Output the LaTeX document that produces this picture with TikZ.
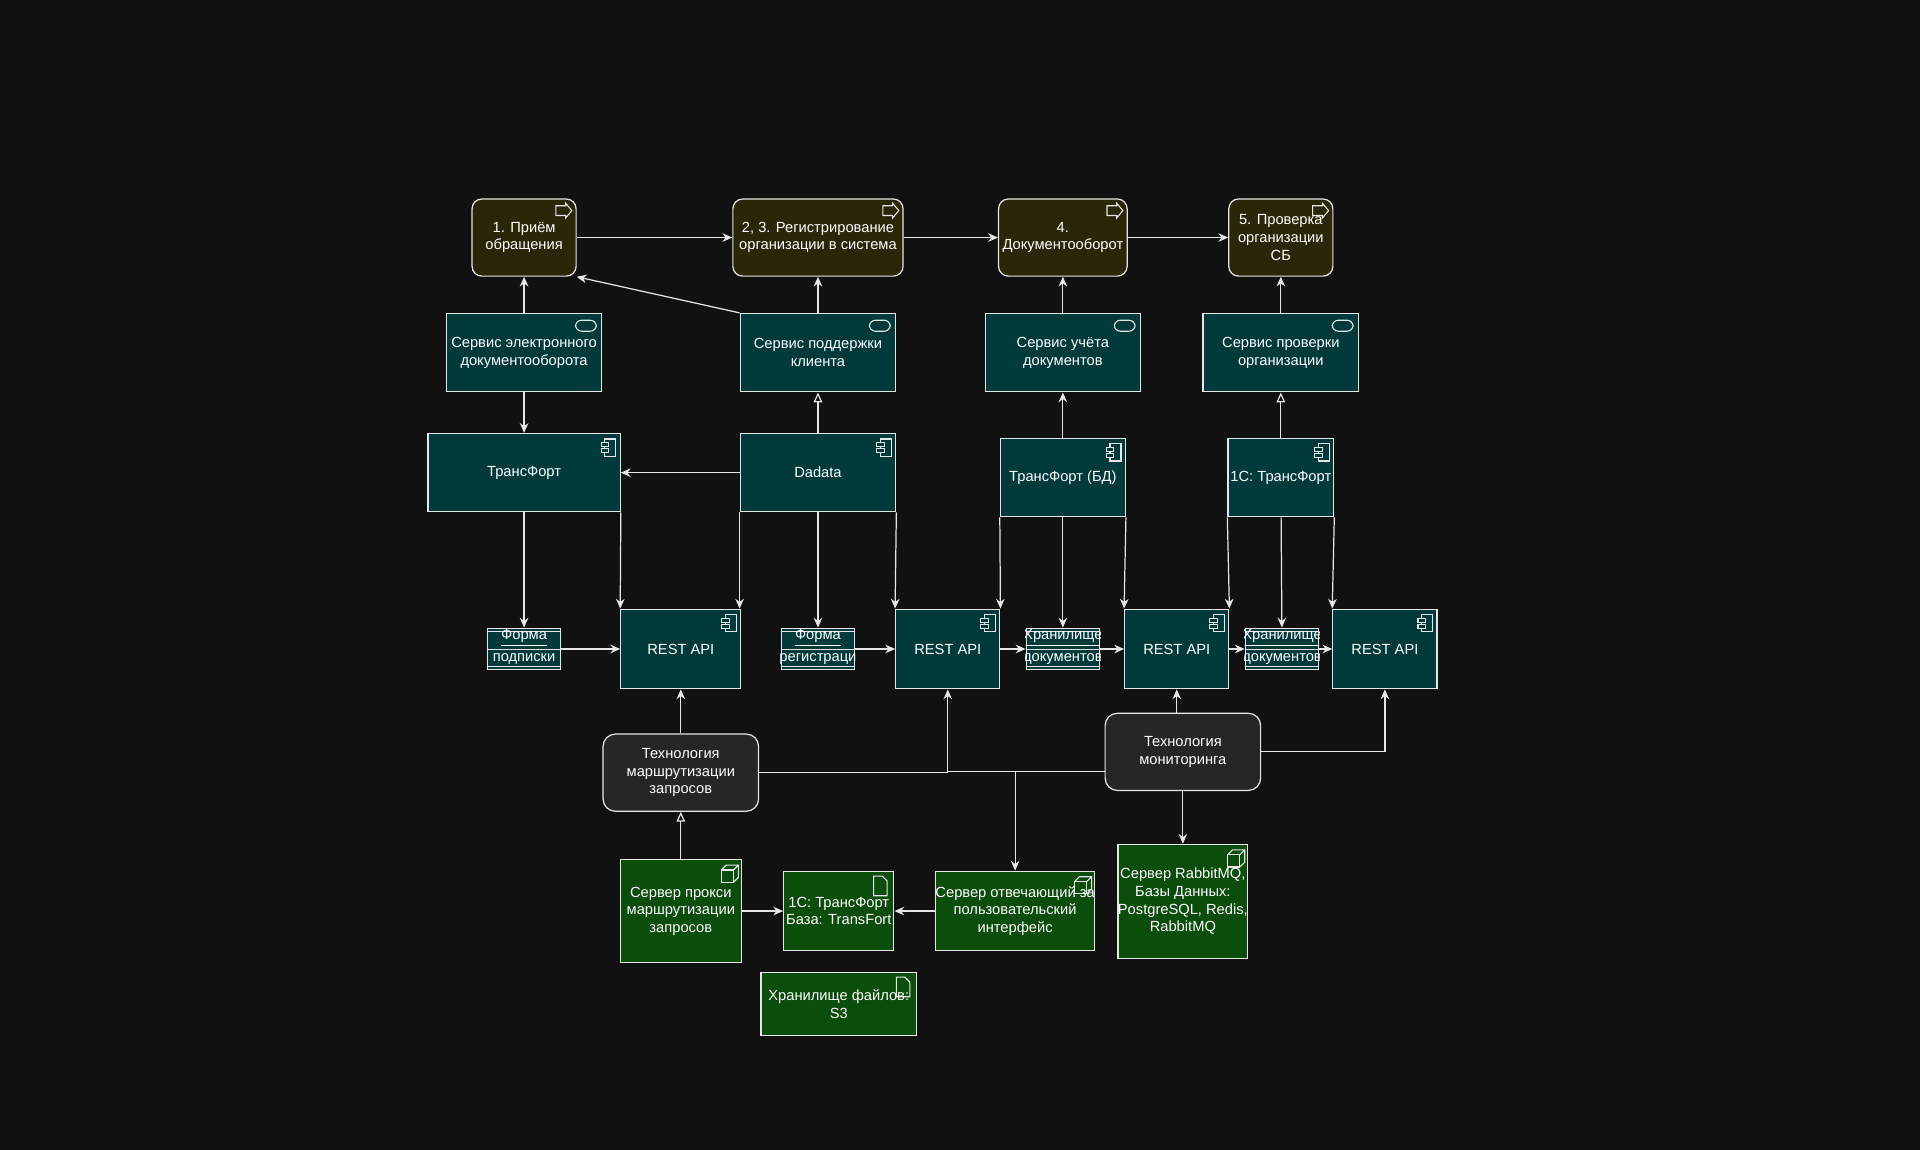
\documentclass[tikz,border=0pt]{standalone}
\usepackage{fontspec}
\setmainfont{Liberation Sans}
\usetikzlibrary{arrows.meta,calc}
\definecolor{bg}{HTML}{111111}
\definecolor{procf}{HTML}{2A2608}
\definecolor{teal}{HTML}{013A3A}
\definecolor{grn}{HTML}{0B4D0B}
\definecolor{tech}{HTML}{262626}
\definecolor{ln}{HTML}{E6E6E6}
\begin{document}
\begin{tikzpicture}[x=0.5pt,y=-0.5pt,
  every node/.style={font=\fontsize{6}{7.2}\selectfont,text=white,align=center,inner sep=1pt},
  bx/.style 2 args={minimum width=#1*0.5pt,minimum height=#2*0.5pt},
  base/.style={draw=ln,line width=0.5pt},
  proc/.style={base,fill=procf,rounded corners=4pt},
  serv/.style={base,fill=teal},
  comp/.style={base,fill=teal},
  techn/.style={base,fill=tech,rounded corners=5pt},
  gnode/.style={base,fill=grn},
  ar/.style={draw=ln,line width=0.5pt,-{Stealth[length=4pt,width=3.5pt]}},
  tri/.style={draw=ln,line width=0.5pt,-{Triangle[open,length=4pt,width=3.5pt,fill=bg]}},
  ic/.style={draw=ln,line width=0.45pt}]
\fill[bg] (0,0) rectangle (1568,939);
\useasboundingbox (0,0) rectangle (1568,939);
% processes
\node[proc,bx={85}{63}] (p1) at (428,194) {1. Приём\\обращения};
\node[proc,bx={139}{63}] (p2) at (668,194) {2, 3. Регистрирование\\организации в система};
\node[proc,bx={105}{63}] (p3) at (868,194) {4.\\Документооборот};
\node[proc,bx={85}{63}] (p4) at (1046,194) {5. Проверка\\организации\\СБ};
% services
\node[serv,bx={127}{64}] (s1) at (428,288) {Сервис электронного\\документооборота};
\node[serv,bx={127}{64}] (s2) at (668,288) {Сервис поддержки\\клиента};
\node[serv,bx={127}{64}] (s3) at (868,288) {Сервис учёта\\документов};
\node[serv,bx={127}{64}] (s4) at (1046,288) {Сервис проверки\\организации};
% components
\node[comp,bx={157}{64}] (c1) at (428,386) {ТрансФорт};
\node[comp,bx={127}{64}] (c2) at (668,386) {Dadata};
\node[comp,bx={102}{64}] (c3) at (868,390) {ТрансФорт (БД)};
\node[comp,bx={85}{64}] (c4) at (1046,390) {1С: ТрансФорт};
% rest
\node[comp,bx={98}{65}] (r1) at (556,530) {REST API};
\node[comp,bx={85}{65}] (r2) at (774,530) {REST API};
\node[comp,bx={85}{65}] (r3) at (961,530) {REST API};
\node[comp,bx={85}{65}] (r4) at (1131,530) {REST API};
% forms
\foreach \n/\x/\a/\b in {f1/428/Форма/подписки,f2/668/Форма/регистраци,h1/868/Хранилище/документов,h2/1047/Хранилище/документов}{
  \node[comp,bx={60}{34},inner sep=0pt] (\n) at (\x,530) {};
  \draw[ln,line width=0.4pt] ($(\n.north west)+(0,3)$) -- ($(\n.north east)+(0,3)$);
  \draw[ln,line width=0.4pt] (\n.west) -- (\n.east);
  \draw[ln,line width=0.4pt] ($(\n.south west)+(0,-3)$) -- ($(\n.south east)+(0,-3)$);
  \begin{scope}
  \clip (\n.south west) rectangle (\n.north east);
  \node at ($(\n.center)+(0,-9)$) {\underline{\a}};
  \node at ($(\n.center)+(0,8)$) {\b};
  \end{scope}
}
% technologies
\node[techn,bx={127}{63}] (t1) at (556,631) {Технология\\маршрутизации\\запросов};
\node[techn,bx={127}{63}] (t2) at (966,614) {Технология\\мониторинга};
% green nodes
\node[gnode,bx={99}{84}] (g1) at (556,744) {Сервер прокси\\маршрутизации\\запросов};
\node[gnode,bx={85}{64}] (g2) at (685,744) {1С: ТрансФорт\\База: TransFort};
\node[gnode,bx={125}{65},inner sep=0pt] (g3) at (829,744) {Сервер отвечающий за\\пользовательский\\интерфейс};
\node[gnode,bx={100}{93},inner sep=0pt] (g4) at (966,736) {Сервер RabbitMQ,\\Базы Данных:\\PostgreSQL, Redis,\\RabbitMQ};
\node[gnode,bx={127}{51}] (g5) at (685,820) {Хранилище файлов:\\S3};
% icons: process arrow
\foreach \n in {p1,p2,p3,p4}{
  \draw[ic] ($(\n.north east)+(-17,6)$) -- ++(8,0) -- ++(0,-2) -- ++(5,6) -- ++(-5,6) -- ++(0,-2) -- ++(-8,0) -- cycle;}
% service pill
\foreach \n in {s1,s2,s3,s4}{
  \draw[ic,rounded corners=2.5pt] ($(\n.north east)+(-22,6)$) rectangle ++(17,9);}
% component icon
\foreach \n in {c1,c2,c3,c4,r1,r2,r3,r4}{
  \draw[ic] ($(\n.north east)+(-13,5)$) rectangle ++(9,14);
  \draw[ic,fill=teal] ($(\n.north east)+(-16,8)$) rectangle ++(6,3);
  \draw[ic,fill=teal] ($(\n.north east)+(-16,13)$) rectangle ++(6,3);}
% cube icon
\foreach \n in {g1,g3,g4}{
  \coordinate (q) at ($(\n.north east)+(-17,19)$);
  \draw[ic] (q) rectangle ++(10,-10);
  \draw[ic] ($(q)+(0,-10)$) -- ++(4,-4) -- ++(10,0) -- ++(0,10) -- ++(-4,4);
  \draw[ic] ($(q)+(10,-10)$) -- ++(4,-4);}
% document icon
\foreach \n in {g2,g5}{
  \coordinate (q) at ($(\n.north east)+(-17,4)$);
  \draw[ic] (q) -- ++(7,0) -- ++(4,4) -- ++(0,12) -- ++(-11,0) -- cycle;}
% edges
\draw[ar] (p1) -- (p2);
\draw[ar] (p2) -- (p3);
\draw[ar] (p3) -- (p4);
\draw[ar] (s2.north west) -- (p1.south east);
\draw[ar] (s1) -- (p1);
\draw[ar] (s2) -- (p2);
\draw[ar] (s3) -- (p3);
\draw[ar] (s4) -- (p4);
\draw[ar] (s1) -- (c1);
\draw[tri] (c2) -- (s2);
\draw[ar] (c3) -- (s3);
\draw[tri] (c4) -- (s4);
\draw[ar] (c2) -- (c1);
\draw[ar] (c1) -- (f1);
\draw[ar] (c1.south east) -- (r1.north west);
\draw[ar] (c2.south west) -- (c2.south west |- r1.north);
\draw[ar] (c2) -- (f2);
\draw[ar] (c2.south east) -- (r2.north west);
\draw[ar] (c3.south west) -- (r2.north east);
\draw[ar] (c3) -- (h1);
\draw[ar] (c3.south east) -- (r3.north west);
\draw[ar] (c4.south west) -- (r3.north east);
\draw[ar] (c4) -- (h2);
\draw[ar] (c4.south east) -- (r4.north west);
\draw[ar] (f1) -- (r1);
\draw[ar] (f2) -- (r2);
\draw[ar] (r2) -- (h1);
\draw[ar] (h1) -- (r3);
\draw[ar] (r3) -- (h2);
\draw[ar] (h2) -- (r4);
\draw[ar] (t1) -- (r1);
\draw[ar] (t1.east) -- (r2 |- t1.east) -- (r2.south);
\draw[ar] (t2.west |- 0,630) -- (g3 |- 0,630) -- (g3.north);
\draw[draw=ln,line width=0.5pt] (g3 |- 0,630) -- (r2 |- 0,630);
\draw[ar] (t2.north -| r3) -- (r3.south);
\draw[ar] (t2.east) -| (r4.south);
\draw[ar] (t2) -- (g4);
\draw[tri] (g1) -- (t1);
\draw[ar] (g1) -- (g2);
\draw[ar] (g3) -- (g2);
\end{tikzpicture}
\end{document}
